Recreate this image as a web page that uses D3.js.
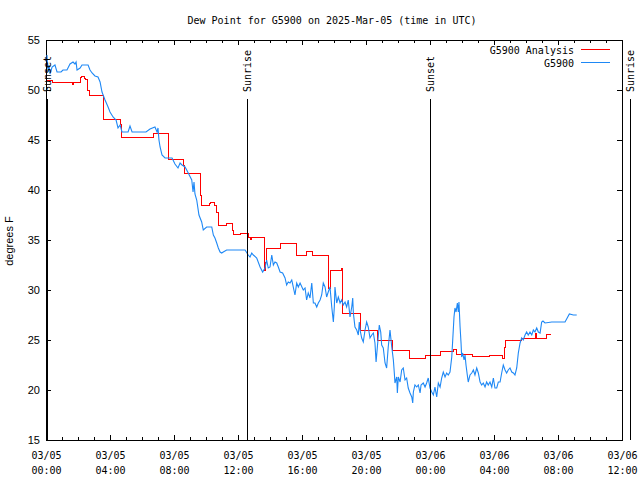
<!DOCTYPE html>
<html><head><meta charset="utf-8">
<script src="https://cdn.jsdelivr.net/npm/d3@7"></script>
<style>body{margin:0;background:#fff}svg{display:block}</style>
</head><body><svg id="c" width="640" height="480"></svg>
<script>
// ---- data (hours after 2025-03-05 00:00 UTC, dew point °F) ----
const chartTitle = "Dew Point for G5900 on 2025-Mar-05 (time in UTC)";
const seriesNames = ["G5900 Analysis", "G5900"];
const seriesColors = ["#ff0000", "#1e88f5"];
const yTickValues = [15, 20, 25, 30, 35, 40, 45, 50, 55];
const xMajorHours = [0, 4, 8, 12, 16, 20, 24, 28, 32, 36];
const sunEvents = ["Sunset", "Sunrise", "Sunset", "Sunrise"];
const sunHours = [0.05, 12.57, 24.02, 36.53];

const analysisSeries = [[0.06,51.0],[0.38,50.8],[1.66,50.6],[1.72,50.8],[2.17,51.3],[2.23,51.4],[2.39,51.2],[2.48,51.1],[2.61,50.0],[2.69,49.5],[3.59,47.1],[4.63,46.6],[4.72,45.3],[6.71,45.7],[7.63,43.1],[8.59,42.5],[8.66,41.7],[9.63,39.5],[9.69,38.5],[10.19,38.7],[10.28,38.8],[10.56,38.5],[10.63,37.8],[10.75,36.7],[10.81,36.5],[11.29,36.7],[11.63,36.0],[11.71,35.6],[12.13,35.7],[12.63,35.3],[12.75,35.1],[12.86,35.3],[13.63,32.0],[13.69,32.8],[13.79,34.2],[14.63,34.7],[15.67,33.5],[16.29,33.9],[16.67,33.5],[17.63,30.2],[17.75,32.0],[18.44,32.2],[18.56,27.7],[19.63,26.0],[20.69,25.0],[21.67,24.0],[22.69,23.2],[23.69,23.5],[24.67,23.9],[25.46,24.1],[25.67,23.6],[26.67,23.4],[27.69,23.5],[28.56,23.2],[28.63,24.3],[28.72,25.0],[29.69,25.2],[30.59,25.7],[30.67,25.2],[31.31,25.6],[31.54,25.6]];

const observedSeries = [[0.06,53.5],[0.13,51.8],[0.19,52.5],[0.25,51.6],[0.38,52.3],[0.56,52.5],[0.69,51.8],[0.94,51.8],[1.06,52.0],[1.31,52.0],[1.50,52.6],[1.69,52.8],[1.81,52.6],[1.88,52.8],[1.94,52.0],[2.13,52.2],[2.25,52.5],[2.63,52.5],[2.75,52.0],[2.88,51.7],[3.06,51.4],[3.25,51.3],[3.38,50.8],[3.50,49.8],[3.69,49.0],[3.88,48.3],[4.00,47.8],[4.19,47.3],[4.38,47.0],[4.50,46.2],[4.63,46.5],[4.75,45.8],[5.13,45.8],[5.25,46.4],[5.38,45.8],[6.25,45.8],[6.50,46.1],[6.81,46.3],[6.94,45.8],[7.00,46.2],[7.06,45.0],[7.13,44.3],[7.25,43.5],[7.44,43.2],[7.88,43.2],[8.06,42.6],[8.25,42.2],[8.38,42.7],[8.50,42.5],[8.69,42.3],[8.89,41.7],[9.11,41.0],[9.19,39.8],[9.25,40.8],[9.31,39.6],[9.42,39.0],[9.56,37.5],[9.73,36.8],[9.83,36.0],[10.04,36.3],[10.36,36.3],[10.46,35.5],[10.56,35.2],[10.67,34.7],[10.77,34.2],[10.88,33.8],[10.98,33.7],[11.08,33.8],[11.29,34.0],[12.44,34.0],[12.64,33.5],[12.75,33.3],[12.86,33.7],[12.96,33.5],[13.17,33.2],[13.38,32.3],[13.54,31.8],[13.69,32.2],[13.79,33.0],[13.89,32.2],[14.00,32.3],[14.11,33.5],[14.21,32.5],[14.31,32.8],[14.42,32.7],[14.52,32.3],[14.63,31.8],[14.79,31.7],[14.94,31.2],[15.04,30.5],[15.14,30.8],[15.25,30.7],[15.36,31.0],[15.56,29.5],[15.67,30.7],[15.77,30.3],[15.88,30.7],[16.08,30.0],[16.19,30.2],[16.29,29.0],[16.39,29.7],[16.50,29.2],[16.61,30.7],[16.71,28.7],[16.81,28.7],[16.92,28.3],[17.02,28.7],[17.13,29.0],[17.23,29.5],[17.33,30.7],[17.44,30.3],[17.54,29.3],[17.64,29.8],[17.75,30.3],[17.86,28.3],[17.96,26.8],[18.02,28.3],[18.06,30.3],[18.17,28.7],[18.27,29.3],[18.38,28.7],[18.48,29.0],[18.58,28.5],[18.69,28.8],[18.79,28.3],[18.89,29.0],[19.00,27.3],[19.11,28.3],[19.17,29.2],[19.21,27.7],[19.31,26.3],[19.42,26.0],[19.52,25.5],[19.58,26.8],[19.63,26.0],[19.73,25.2],[19.83,24.8],[19.94,26.0],[20.04,26.8],[20.14,26.3],[20.25,25.2],[20.36,25.5],[20.46,25.7],[20.56,24.7],[20.63,22.8],[20.71,24.3],[20.83,26.5],[20.92,25.8],[20.98,24.5],[21.08,24.2],[21.19,22.7],[21.29,22.2],[21.39,24.3],[21.50,26.0],[21.61,24.3],[21.71,23.0],[21.77,21.7],[21.81,20.7],[21.92,21.3],[21.96,19.7],[22.02,21.3],[22.13,20.8],[22.23,22.0],[22.33,22.2],[22.44,21.0],[22.54,21.2],[22.64,20.2],[22.75,19.7],[22.86,19.3],[22.92,18.7],[22.96,19.8],[23.06,20.5],[23.17,20.3],[23.27,20.5],[23.38,19.7],[23.44,20.5],[23.58,20.7],[23.69,20.3],[23.79,20.7],[23.89,21.2],[24.00,20.2],[24.11,19.8],[24.21,19.5],[24.31,20.3],[24.42,19.3],[24.52,20.7],[24.63,20.3],[24.73,21.2],[24.83,21.8],[24.94,21.3],[25.04,21.7],[25.14,21.5],[25.25,21.8],[25.36,23.3],[25.42,25.0],[25.50,27.3],[25.56,28.2],[25.63,27.8],[25.71,28.7],[25.77,27.8],[25.81,28.8],[25.88,26.3],[25.94,24.7],[25.98,23.3],[26.04,23.7],[26.13,23.0],[26.19,23.5],[26.25,22.5],[26.33,21.5],[26.39,20.8],[26.50,21.5],[26.61,21.7],[26.71,22.0],[26.81,21.5],[26.92,22.2],[27.02,21.7],[27.13,20.8],[27.23,20.5],[27.33,20.7],[27.44,20.3],[27.54,20.8],[27.64,20.5],[27.75,20.8],[27.86,20.3],[27.96,21.2],[28.06,20.2],[28.17,20.2],[28.27,20.8],[28.38,20.8],[28.48,21.7],[28.58,22.5],[28.69,22.0],[28.79,21.7],[28.89,22.0],[29.00,22.2],[29.11,21.8],[29.21,21.7],[29.31,21.5],[29.42,22.2],[29.52,23.7],[29.63,24.7],[29.73,25.2],[29.83,25.0],[29.94,25.5],[30.04,25.8],[30.14,25.5],[30.25,25.8],[30.36,25.5],[30.46,26.0],[30.56,25.8],[30.67,26.2],[30.77,25.8],[30.88,25.7],[30.98,26.8],[31.06,26.9],[31.19,26.7],[31.61,26.8],[32.44,26.8],[32.71,27.6],[32.96,27.5],[33.17,27.5]];

// ---- chart ----
const t0 = Date.UTC(2025, 2, 5, 0, 0);
const toDate = h => new Date(t0 + h * 3600e3);
const MONO = "'DejaVu Sans Mono', monospace";
const SANS = "'Liberation Sans', Arial, sans-serif";

const svg = d3.select("#c");
svg.append("rect").attr("width", 640).attr("height", 480).attr("fill", "#fff");

const x = d3.scaleUtc().domain([toDate(0), toDate(36)]).range([46, 622]);
const y = d3.scaleLinear().domain([15, 55]).range([440, 40]);

// title
svg.append("text").attr("x", 332).attr("y", 24).attr("text-anchor", "middle")
  .style("font-family", MONO).style("font-size", "10px").text(chartTitle);

// y axis label
svg.append("text").attr("transform", "translate(13,241) rotate(-90)")
  .attr("text-anchor", "middle").style("font-family", SANS).style("font-size", "11px")
  .text("degrees F");

const axes = svg.append("g").attr("shape-rendering", "crispEdges");

// minor hourly ticks (bottom/top)
const minorHours = d3.utcHour.every(1).range(toDate(0), toDate(36.01));
axes.append("g").attr("transform", "translate(0,440)")
  .call(d3.axisBottom(x).tickValues(minorHours).tickSize(-3).tickFormat(""))
  .call(g => g.select(".domain").remove());
axes.append("g").attr("transform", "translate(0,40)")
  .call(d3.axisTop(x).tickValues(minorHours).tickSize(-3).tickFormat(""))
  .call(g => g.select(".domain").remove());

// major x ticks
const majorDates = xMajorHours.map(toDate);
const fmtD = d3.utcFormat("%m/%d"), fmtT = d3.utcFormat("%H:%M");
const xb = axes.append("g").attr("transform", "translate(0,440)")
  .call(d3.axisBottom(x).tickValues(majorDates).tickSizeInner(-5).tickSizeOuter(0).tickFormat(""));
xb.selectAll(".tick").append("text")
  .attr("fill", "#000").attr("text-anchor", "middle")
  .style("font-family", MONO).style("font-size", "10px")
  .each(function(d) {
    const t = d3.select(this);
    t.append("tspan").attr("x", 0).attr("y", 19).text(fmtD(d));
    t.append("tspan").attr("x", 0).attr("y", 34).text(fmtT(d));
  });
axes.append("g").attr("transform", "translate(0,40)")
  .call(d3.axisTop(x).tickValues(majorDates).tickSizeInner(-5).tickSizeOuter(0).tickFormat(""));

// y axes
axes.append("g").attr("transform", "translate(46,0)")
  .call(d3.axisLeft(y).tickValues(yTickValues).tickSizeInner(-5).tickSizeOuter(0).tickPadding(6))
  .call(g => g.selectAll("text").style("font-family", SANS).style("font-size", "11px").attr("fill", "#000"));
axes.append("g").attr("transform", "translate(622,0)")
  .call(d3.axisRight(y).tickValues(yTickValues).tickSizeInner(-5).tickSizeOuter(0).tickFormat(""));

// series lines
const stepLine = d3.line().x(d => x(toDate(d[0]))).y(d => y(d[1])).curve(d3.curveStepAfter);
const obsLine = d3.line().x(d => x(toDate(d[0]))).y(d => y(d[1]));
svg.append("path").attr("d", stepLine(analysisSeries))
  .attr("fill", "none").attr("stroke", seriesColors[0]).attr("stroke-width", 1)
  .attr("shape-rendering", "crispEdges");
svg.append("path").attr("d", obsLine(observedSeries))
  .attr("fill", "none").attr("stroke", seriesColors[1]).attr("stroke-width", 1.1);

// sunrise / sunset markers
sunEvents.forEach((lab, i) => {
  const px = Math.round(x(toDate(sunHours[i]))) + 0.5;
  svg.append("line").attr("x1", px).attr("x2", px).attr("y1", 99).attr("y2", 440)
    .attr("stroke", "#000").attr("stroke-width", 1).attr("shape-rendering", "crispEdges");
  svg.append("text").attr("transform", `translate(${px},92) rotate(-90)`)
    .attr("dy", "0.35em").attr("text-anchor", "start")
    .style("font-family", MONO).style("font-size", "10px").text(lab);
});

// legend
const legY = [49.5, 62.5];
seriesNames.forEach((n, i) => {
  svg.append("text").attr("x", 574).attr("y", legY[i] + 4).attr("text-anchor", "end")
    .style("font-family", MONO).style("font-size", "10px").text(n);
  svg.append("line").attr("x1", 581).attr("x2", 610).attr("y1", legY[i]).attr("y2", legY[i])
    .attr("stroke", seriesColors[i]).attr("stroke-width", 1).attr("shape-rendering", "crispEdges");
});
</script>
</body></html>
